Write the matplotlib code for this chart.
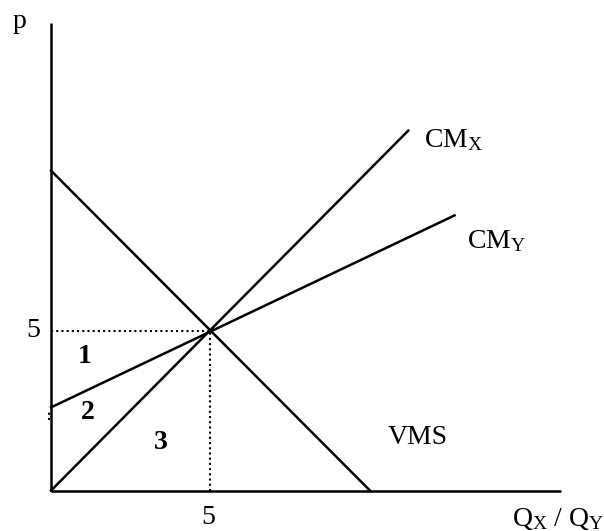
#! /usr/bin/env python3
# -*- coding: utf-8 -*-

import numpy as np
import matplotlib
matplotlib.use("Agg")
import matplotlib.pyplot as plt

plt.rcParams['font.family'] = ['Liberation Serif', 'DejaVu Serif']
plt.rcParams['mathtext.fontset'] = 'custom'
plt.rcParams['mathtext.rm'] = 'Liberation Serif'
plt.rcParams['mathtext.default'] = 'regular'

## Data

# axes extent
x_max = 16.0
y_max = 14.6

# curves (x start, x end) and line params
vms_x = [0, 10]
vms_y = [10, 0]
cmx_x = [0, 11.2]
cmx_y = [0, 11.25]
cmy_x = [0, 12.65]
cmy_y = [2.6, 8.6]

# equilibrium
eq_q = 5
eq_p = 5

# area labels
area_labels = ["1", "2", "3"]
area_x = [1.07, 1.16, 3.44]
area_y = [4.2, 2.43, 1.49]


def main():
    fig = plt.figure(figsize=(6.04, 5.31), dpi=100)
    ax = fig.add_axes([0, 0, 1, 1])
    sx = 31.9
    sy = 32.0
    ax.set_xlim(-51 / sx, (604 - 51) / sx)
    ax.set_ylim((490.6 - 531) / sy, 490.6 / sy)
    ax.axis("off")

    lw = 1.8
    # axes
    ax.plot([0, 0], [0, y_max], color="black", lw=lw, solid_capstyle="butt")
    ax.plot([0, x_max], [0, 0], color="black", lw=lw, solid_capstyle="butt")

    # curves
    ax.plot(vms_x, vms_y, color="black", lw=lw)
    ax.plot(cmx_x, cmx_y, color="black", lw=lw)
    ax.plot(cmy_x, cmy_y, color="black", lw=lw)

    # dotted guides
    ax.plot([0, eq_q], [eq_p, eq_p], color="black", lw=1.5, ls=(0, (1, 1.5)))
    ax.plot([eq_q, eq_q], [0, eq_p], color="black", lw=1.5, ls=(0, (1, 1.5)))
    ax.plot([-0.05, -0.05], [2.2, 2.5], color="black", lw=1.5, ls=(0, (1, 1.5)))

    fs = 20
    # axis labels
    ax.text(-1.0, 14.65, "p", fontsize=fs, ha="center", va="center")
    ax.text(-0.55, eq_p, "5", fontsize=fs, ha="center", va="center")
    ax.text(eq_q - 0.08, -0.85, "5", fontsize=fs, ha="center", va="center")
    ax.text(14.45, -0.9, r"Q$_{X}$ / Q$_{Y}$", fontsize=fs, ha="left",
            va="center")

    # curve labels
    ax.text(11.7, 10.95, r"CM$_{X}$", fontsize=fs, ha="left", va="center")
    ax.text(13.05, 7.8, r"CM$_{Y}$", fontsize=fs, ha="left", va="center")
    ax.text(10.55, 1.65, "VMS", fontsize=fs, ha="left", va="center")

    # areas
    for lab, xx, yy in zip(area_labels, area_x, area_y):
        ax.text(xx, yy, lab, fontsize=fs, fontweight="bold", ha="center",
                va="center")

    fig.savefig("out.png", dpi=100)


if __name__ == "__main__":
    main()
